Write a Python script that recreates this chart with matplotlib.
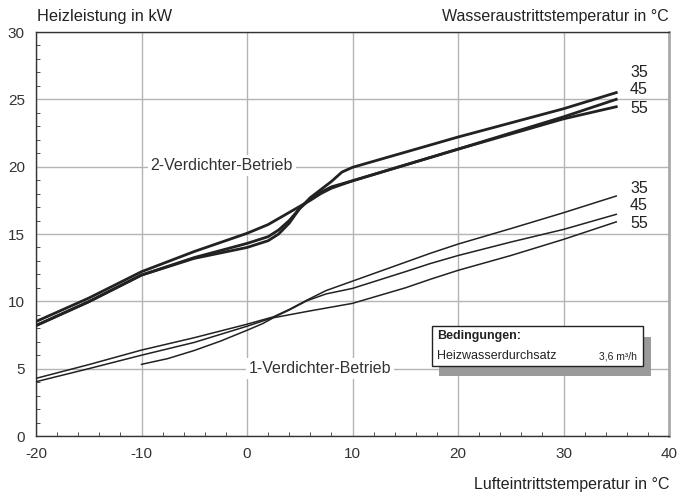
import numpy as np
import matplotlib.pyplot as plt
from matplotlib.patches import Rectangle

plt.rcParams['font.family'] = ['Liberation Sans', 'DejaVu Sans']
plt.rcParams['axes.unicode_minus'] = False

# 2-Verdichter-Betrieb (Heizleistung in kW ueber Lufteintrittstemperatur)
x2_35 = [-20, -15, -10, -5, 0, 2, 3, 4, 5, 6, 7, 8, 9, 10, 12, 20, 30, 35]
y2_35 = [8.2, 9.97, 11.95, 13.19, 14.0, 14.5, 15.0, 15.8, 16.9, 17.7, 18.3, 18.9, 19.6, 19.95, 20.4, 22.2, 24.3, 25.5]
x2_45 = [-20, -15, -10, -5, 0, 2, 3, 4, 5, 6, 7, 8, 10, 20, 30, 35]
y2_45 = [8.2, 9.97, 11.95, 13.25, 14.3, 14.8, 15.3, 16.0, 16.9, 17.6, 18.1, 18.5, 18.95, 21.3, 23.7, 25.0]
x2_55 = [-20, -15, -10, -5, 0, 2, 4, 6, 7, 8, 10, 20, 30, 35]
y2_55 = [8.5, 10.24, 12.2, 13.7, 15.05, 15.7, 16.6, 17.5, 18.0, 18.4, 18.95, 21.3, 23.55, 24.45]

# 1-Verdichter-Betrieb
x1_35 = [-20, -15, -10, -5, 0, 2.5, 4, 5.7, 7.5, 10, 15, 17.35, 20, 25, 30, 35]
y1_35 = [4.28, 5.3, 6.38, 7.3, 8.3, 8.85, 9.4, 10.1, 10.8, 11.5, 12.9, 13.56, 14.25, 15.4, 16.58, 17.82]
x1_45 = [-20, -15, -10, -5, 0, 2.5, 4, 5.7, 7.5, 10, 15, 17.35, 20, 25, 30, 35]
y1_45 = [4.03, 5.0, 6.0, 6.95, 8.15, 8.8, 9.35, 10.05, 10.55, 10.96, 12.2, 12.8, 13.4, 14.4, 15.34, 16.46]
x1_55 = [-10, -7.5, -5, -2.5, 0, 1.5, 2.5, 5.7, 10, 15, 17.35, 20, 25, 30, 35]
y1_55 = [5.32, 5.75, 6.35, 7.05, 7.85, 8.35, 8.78, 9.25, 9.85, 11.0, 11.63, 12.3, 13.4, 14.6, 15.9]

temp_labels = ["35", "45", "55"]
label_y_2 = [27.0, 25.7, 24.35]
label_y_1 = [18.4, 17.15, 15.8]

line_col = "#222222"
grid_col = "#b4b4b4"

fig = plt.figure(figsize=(6.81, 5.0), dpi=100)
ax = fig.add_axes([36 / 681, 1 - 436 / 500, 633 / 681, 404 / 500])

ax.plot(x2_35, y2_35, color=line_col, lw=2.0, zorder=3)
ax.plot(x2_45, y2_45, color=line_col, lw=2.0, zorder=3)
ax.plot(x2_55, y2_55, color=line_col, lw=2.0, zorder=3)
ax.plot(x1_35, y1_35, color=line_col, lw=1.1, zorder=3)
ax.plot(x1_45, y1_45, color=line_col, lw=1.1, zorder=3)
ax.plot(x1_55, y1_55, color=line_col, lw=1.1, zorder=3)

ax.set_xlim(-20, 40)
ax.set_ylim(0, 30)
ax.set_xticks(np.arange(-20, 41, 10))
ax.set_yticks(np.arange(0, 31, 5))
ax.set_xticks(np.arange(-20, 41, 2), minor=True)
ax.set_yticks(np.arange(0, 31, 1), minor=True)
ax.tick_params(which="both", direction="in", colors="#333333", labelsize=11)
ax.tick_params(which="major", length=0, pad=8)
ax.tick_params(which="minor", length=3)
ax.grid(True, which="major", color=grid_col, lw=1.0, zorder=0)
ax.set_axisbelow(True)
for s in ["left", "bottom", "top"]:
    ax.spines[s].set_color("#333333")
    ax.spines[s].set_linewidth(1.0)
ax.spines["right"].set_color("#aaaaaa")
ax.spines["right"].set_linewidth(2.0)

for t, y in zip(temp_labels, label_y_2):
    ax.text(36.3, y, t, fontsize=11.5, color="#222222", va="center", ha="left")
for t, y in zip(temp_labels, label_y_1):
    ax.text(36.3, y, t, fontsize=11.5, color="#222222", va="center", ha="left")

box = dict(facecolor="white", edgecolor="none", pad=2)
ax.text(-2.4, 20.1, "2-Verdichter-Betrieb", fontsize=11.5, color="#333333",
        ha="center", va="center", bbox=box, zorder=2)
ax.text(6.9, 5.0, "1-Verdichter-Betrieb", fontsize=11.5, color="#333333",
        ha="center", va="center", bbox=box, zorder=2)

# Bedingungen box with shadow
ax.add_patch(Rectangle((18.2, 4.45), 20.1, 2.9, facecolor="#9a9a9a",
                       edgecolor="none", zorder=4))
ax.add_patch(Rectangle((17.53, 5.2), 20.0, 2.97, facecolor="white",
                       edgecolor="#222222", lw=1.0, zorder=5))
ax.text(18.05, 7.4, "Bedingungen:", fontsize=9, fontweight="bold",
        color="#222222", va="center", ha="left", zorder=6)
ax.text(18.05, 5.95, "Heizwasserdurchsatz", fontsize=9, color="#222222",
        va="center", ha="left", zorder=6)
ax.text(37.0, 5.9, "3,6 m³/h", fontsize=7.5, color="#222222",
        va="center", ha="right", zorder=6)

fig.text(37 / 681, 1 - 17 / 500, "Heizleistung in kW", fontsize=11.8,
         color="#222222", ha="left", va="center")
fig.text(669 / 681, 1 - 17 / 500, "Wasseraustrittstemperatur in °C",
         fontsize=11.5, color="#222222", ha="right", va="center")
fig.text(669 / 681, 1 - 484 / 500, "Lufteintrittstemperatur in °C",
         fontsize=11.5, color="#222222", ha="right", va="center")

fig.savefig("out.png", dpi=100)
